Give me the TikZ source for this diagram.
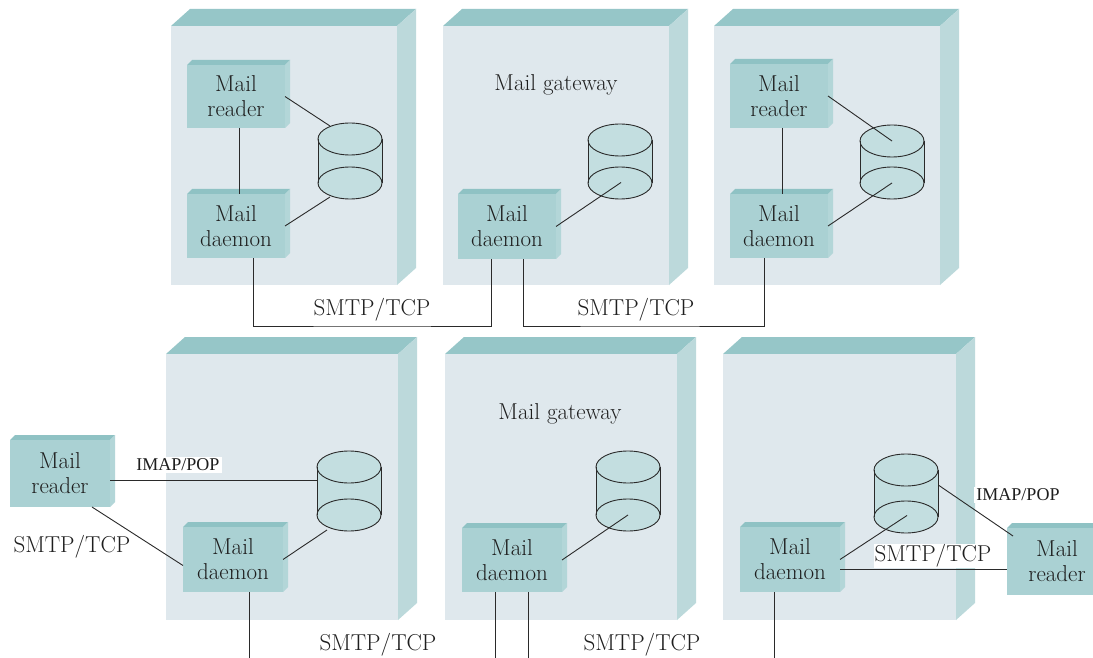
\documentclass[tikz,border=0pt]{standalone}
\usepackage{fontspec}
\newfontfamily\timesfont{Liberation Serif}
\usetikzlibrary{calc}
\definecolor{frontc}{HTML}{DFE8ED}
\definecolor{topc}{HTML}{96C6C8}
\definecolor{sidec}{HTML}{BCD9DB}
\definecolor{compc}{HTML}{AAD1D3}
\definecolor{comptop}{HTML}{8FC2C4}
\definecolor{compside}{HTML}{B3D6D8}
\definecolor{cylc}{HTML}{C3DEE0}
\definecolor{linec}{HTML}{2A2A2A}
\definecolor{textc}{HTML}{1E1E1E}
\tikzset{
  outerface/.style={fill=frontc, inner sep=0pt, outer sep=0pt},
  compbox/.style={fill=compc, inner sep=0pt, outer sep=0pt, align=center},
  conn/.style={draw=linec, line width=0.9pt},
  cylline/.style={draw=linec, line width=0.9pt},
  lbl/.style={inner sep=1pt, text=textc},
  imap/.style={inner sep=2pt, fill=white, text=textc, font=\timesfont\fontsize{18}{20}\selectfont}
}
\newcommand\mkouter[5]{%
  \fill[topc] (#2,#3) -- ++(19,-17) -- ({#4+19},{#3-17}) -- (#4,#3) -- cycle;
  \fill[sidec] (#4,#3) -- ({#4+19},{#3-17}) -- ({#4+19},{#5-17}) -- (#4,#5) -- cycle;
  \node[outerface, minimum width={(#4-#2)*1pt}, minimum height={(#5-#3)*1pt}, anchor=north west] (#1) at (#2,#3) {};
}
\newcommand\mkcomp[6]{%
  \fill[comptop] (#2,#3) -- ++(5,-5) -- ({#4+5},{#3-5}) -- (#4,#3) -- cycle;
  \fill[compside] (#4,#3) -- ({#4+5},{#3-5}) -- ({#4+5},{#5-5}) -- (#4,#5) -- cycle;
  \node[compbox, text=textc, minimum width={(#4-#2)*1pt}, minimum height={(#5-#3)*1pt}, anchor=north west] (#1) at (#2,#3) {#6};
}
\newcommand\mkcyl[4]{%
  \fill[cylc] ({#2-32},#3) rectangle ({#2+32},#4);
  \filldraw[fill=cylc, cylline] (#2,#4) ellipse [x radius=32pt, y radius=16pt];
  \filldraw[fill=cylc, cylline] (#2,#3) ellipse [x radius=32pt, y radius=16pt];
  \draw[cylline] ({#2-32},#3) -- ({#2-32},#4) ({#2+32},#3) -- ({#2+32},#4);
  \node[inner sep=0pt, outer sep=0pt, minimum width=64pt, minimum height={(#4-#3+32)*1pt}] (#1) at (#2,{(#3+#4)/2}) {};
}
\begin{document}
\begin{tikzpicture}[x=1pt, y=-1pt, font=\fontsize{23}{25}\selectfont]
\path[use as bounding box, clip] (0,0) rectangle (1093,658);
\fill[white] (0,0) rectangle (1093,658);
\coordinate (bot) at (0,662);

% outer host boxes
\mkouter{h1}{171}{26}{397}{285}
\mkouter{g1}{443}{26}{669}{285}
\mkouter{h2}{714}{26}{940}{285}
\mkouter{h3}{166}{354}{398}{620}
\mkouter{g2}{445}{354}{677}{620}
\mkouter{h4}{723}{354}{956}{620}

\node[lbl] (gw1) at (556,85) {Mail gateway};
\node[lbl] (gw2) at (560,414) {Mail gateway};

% components
\mkcomp{r1}{187}{65}{285}{128}{Mail\\reader}
\mkcomp{d1}{187}{194}{285}{258}{Mail\\daemon}
\mkcomp{d2}{458}{194}{556}{259}{Mail\\daemon}
\mkcomp{r3}{730}{64}{828}{128}{Mail\\reader}
\mkcomp{d3}{730}{194}{828}{258}{Mail\\daemon}
\mkcomp{r4}{10}{440}{110}{507}{Mail\\reader}
\mkcomp{d4}{183}{527}{283}{592}{Mail\\daemon}
\mkcomp{d5}{462}{528}{562}{592}{Mail\\daemon}
\mkcomp{d6}{740}{527}{840}{592}{Mail\\daemon}
\mkcomp{r6}{1007}{528}{1107}{595}{Mail\\reader}

% mail stores
\mkcyl{c1}{350}{139}{183}
\mkcyl{c2}{620}{140}{183}
\mkcyl{c3}{892}{141}{183}
\mkcyl{c4}{349}{467}{515}
\mkcyl{c5}{628}{467}{515}
\mkcyl{c6}{906}{470}{517}

% top row connectors
\draw[conn] (r1.east) -- ($(c1)+(-20,-35)$);
\draw[conn] (d1.east) -- ($(c1)+(-20,36)$);
\draw[conn] ([xshift=3pt]r1.south) -- ([xshift=3pt]d1.north);
\draw[conn] (d2.east) -- ($(c2)+(1,21)$);
\draw[conn] (r3.east) -- ($(c3)+(0,-21)$);
\draw[conn] (d3.east) -- ($(c3)+(0,21)$);
\draw[conn] ([xshift=3pt]r3.south) -- ([xshift=3pt]d3.north);

\coordinate (busL) at (372,326);
\coordinate (busR) at (636,326);
\draw[conn] ([xshift=17pt]d1.south) |- (busL) -| ([xshift=-16pt]d2.south);
\draw[conn] ([xshift=16pt]d2.south) |- (busR) -| ([xshift=-15pt]d3.south);
\node[lbl] (s1) at (372,310) {SMTP/TCP};
\node[lbl] (s2) at (636,310) {SMTP/TCP};

% bottom row connectors
\draw[conn] ([yshift=-7pt]r4.east) -- ([yshift=-7pt]r4.east -| c4.west);
\node[imap] (ip1) at (178,465) {IMAP/POP};
\draw[conn] ([xshift=32pt]r4.south) -- ([yshift=-6pt]d4.west);
\node[lbl] (s3) at (72,547) {SMTP/TCP};
\draw[conn] (d4.east) -- ($(c4)+(-22,39)$);
\draw[conn] ([xshift=16pt]d4.south) -- ([xshift=16pt]d4.south |- bot);

\draw[conn] (d5.east) -- ($(c5)+(0,24)$);
\draw[conn] ([xshift=-17pt]d5.south) -- ([xshift=-17pt]d5.south |- bot);
\draw[conn] ([xshift=16pt]d5.south) -- ([xshift=16pt]d5.south |- bot);

\draw[conn] (d6.east) -- ($(c6)+(1,22)$);
\draw[conn] ($(c6)+(33,-8)$) -- ([shift={(6pt,-8pt)}]r6.north west);
\node[imap] (ip2) at (1018,495) {IMAP/POP};
\draw[conn] ([yshift=-10pt]d6.east) -- ([yshift=-10pt]d6.east -| r6.west);
\node[lbl, fill=white] (s4) at (933,556) {SMTP/TCP};
\draw[conn] ([xshift=-16pt]d6.south) -- ([xshift=-16pt]d6.south |- bot);

\node[lbl] (s5) at (378,645) {SMTP/TCP};
\node[lbl] (s6) at (642,645) {SMTP/TCP};
\end{tikzpicture}
\end{document}
